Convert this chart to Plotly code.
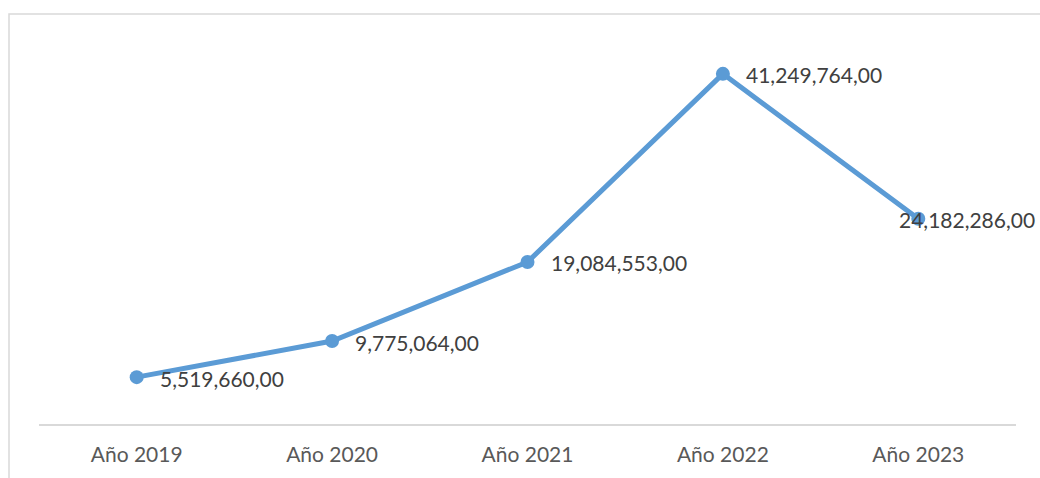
import plotly.graph_objects as go

categories = ["Año 2019", "Año 2020", "Año 2021", "Año 2022", "Año 2023"]
values = [5519660, 9775064, 19084553, 41249764, 24182286]
labels = ["5,519,660,00", "9,775,064,00", "19,084,553,00", "41,249,764,00", "24,182,286,00"]
label_shift = [21, 21, 21, 21, -21]

W, H = 1040, 478
L, R, T, B = 39, 1040 - 1016, 42, 478 - 424
pw, ph = W - L - R, H - T - B
FONT = "Lato, Open Sans, sans-serif"

fig = go.Figure()
fig.add_trace(go.Scatter(
    x=categories, y=values, mode="lines+markers",
    line=dict(color="#5B9BD5", width=5),
    marker=dict(color="#5B9BD5", size=14),
    hoverinfo="skip",
))

for c, v, lab, s in zip(categories, values, labels, label_shift):
    fig.add_annotation(x=c, y=v, text=lab, showarrow=False, xanchor="left",
                       yanchor="middle", xshift=s, yshift=-1,
                       font=dict(family=FONT, size=21, color="#404040"))

fig.add_shape(type="rect", xref="paper", yref="paper",
              x0=(9 - L) / pw, x1=1.2, y0=-0.5, y1=(H - B - 14) / ph,
              line=dict(color="#D9D9D9", width=1.5), fillcolor="rgba(0,0,0,0)", layer="below")

fig.update_layout(
    width=W, height=H,
    margin=dict(l=L, r=R, t=T, b=B),
    paper_bgcolor="white", plot_bgcolor="white",
    showlegend=False,
    xaxis=dict(type="category", range=[-0.5, 4.5], showline=True, linecolor="#D9D9D9",
               linewidth=1.5, showgrid=False, zeroline=False, ticks="",
               automargin=False, ticklabelstandoff=11,
               tickfont=dict(family=FONT, size=21, color="#595959")),
    yaxis=dict(range=[0, 45000000], visible=False, showgrid=False, zeroline=False,
               automargin=False),
)

fig.write_html("out.html", config={"displayModeBar": False},
               post_script="document.body.style.margin='0';document.body.style.overflow='hidden';")
